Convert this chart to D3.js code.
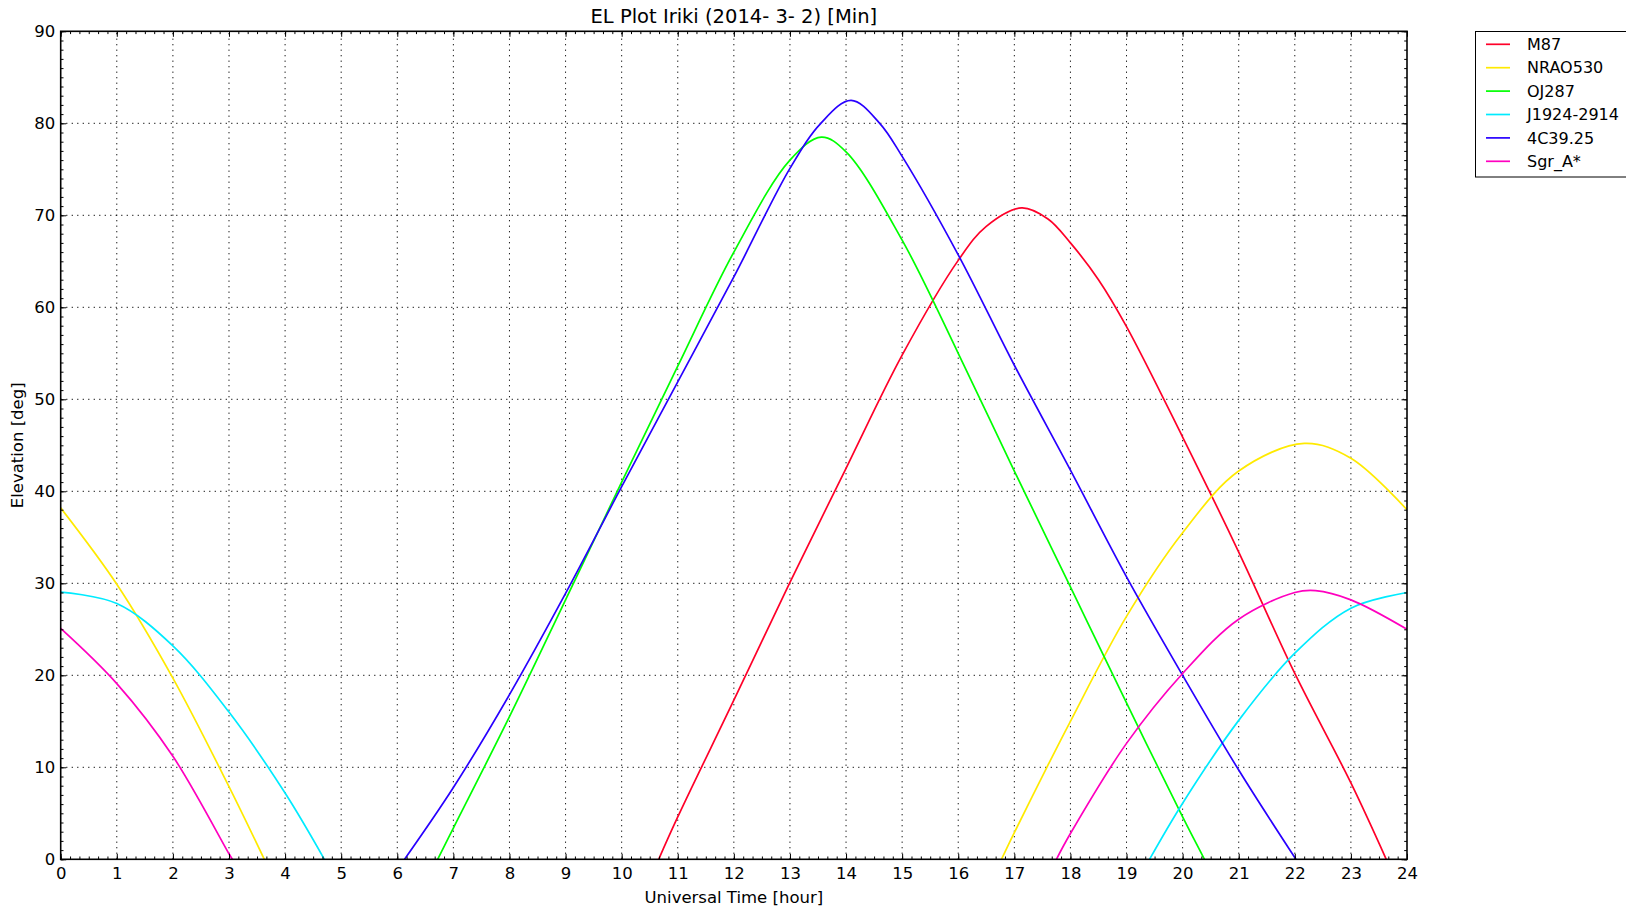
<!DOCTYPE html>
<html><head><meta charset="utf-8">
<script src="https://cdn.jsdelivr.net/npm/d3@7"></script>
<style>body{margin:0;background:#fff} text{font-family:"DejaVu Sans",sans-serif;fill:#000}</style>
</head><body><svg id="c" width="1626" height="908"></svg>
<script>
// ---- data ----
const titleText = "EL Plot Iriki (2014- 3- 2) [Min]";
const xLabel = "Universal Time [hour]";
const yLabel = "Elevation [deg]";
const xTicks = d3.range(0, 25, 1);          // 0..24 hours
const yTicks = d3.range(0, 91, 10);         // 0..90 deg
const seriesNames = ["M87", "NRAO530", "OJ287", "J1924-2914", "4C39.25", "Sgr_A*"];
const seriesColors = ["#ff0029", "#ffea00", "#00ff00", "#00ebff", "#2900ff", "#ff00bf"];

// each series: list of visible segments, points are [hour, elevation]
const m87 = [[[10.66,0],[11,4.6],[12,17.3],[13,30.1],[14,42.5],[15,54.8],[16,65.1],[16.5,68.8],[17.13,70.8],[17.6,69.6],[18,67.0],[18.5,63.0],[19,57.9],[20,45.9],[21,33.4],[22,20.2],[23,8.3],[23.63,0]]];
const nrao530 = [
  [[0,38.2],[1,29.9],[2,19.7],[3,7.9],[3.63,0]],
  [[16.77,0],[17,2.9],[17.58,10.0],[18,15.0],[19,26.4],[20,35.5],[21,42.2],[22.17,45.2],[23,43.6],[24,38.0]]
];
const oj287 = [[[6.72,0],[7,3.4],[8,15.5],[9,28.2],[10,41.0],[11,53.6],[12,66.0],[13,76.0],[13.56,78.5],[14,76.9],[15,67.3],[16,55.0],[17,42.2],[18,29.6],[19,17.0],[20,4.6],[20.39,0]]];
const j1924 = [
  [[0,29.05],[1,27.8],[2,23.2],[3,16.0],[4,7.2],[4.7,0]],
  [[19.41,0],[20,6.1],[21,15.1],[22,22.4],[23,27.3],[24,29.0]]
];
const c4c3925 = [[[6.13,0],[7,7.8],[8,17.9],[9,28.9],[10,40.5],[11,51.9],[12,63.3],[13,75.1],[13.55,80.0],[14.09,82.5],[14.6,80.0],[15,76.4],[16,65.7],[17,53.7],[18,42.3],[19,30.7],[20,20.0],[21,9.7],[22.02,0]]];
const sgrA = [
  [[0,25.1],[1,19.1],[2,11.2],[3,0.6],[3.06,0]],
  [[17.75,0],[18,2.8],[19,12.6],[20,20.2],[21,26.1],[22,29.0],[22.37,29.2],[23,28.2],[24,25.0]]
];
const seriesData = [m87, nrao530, oj287, j1924, c4c3925, sgrA];

// ---- layout ----
const L = 60.7, R = 1407, T = 31.3, B = 859.3;
const svg = d3.select("#c");
const x = d3.scaleLinear().domain([0, 24]).range([L, R]);
const y = d3.scaleLinear().domain([0, 90]).range([B, T]);
const fs = 16.5;

// grid
const grid = svg.append("g").attr("stroke", "#000").attr("stroke-width", 1).attr("stroke-dasharray", "1.2,4.3");
grid.selectAll("line.vx").data(xTicks.slice(1, -1)).join("line")
  .attr("x1", d => x(d)).attr("x2", d => x(d)).attr("y1", B).attr("y2", T);
grid.selectAll("line.hy").data(yTicks.slice(1, -1)).join("line")
  .attr("y1", d => y(d)).attr("y2", d => y(d)).attr("x1", L).attr("x2", R);

// curves
svg.append("clipPath").attr("id", "clip").append("rect")
  .attr("x", L).attr("y", T).attr("width", R - L).attr("height", B - T);
const line = d3.line().x(d => x(d[0])).y(d => y(d[1])).curve(d3.curveCatmullRom.alpha(0.5));
const curves = svg.append("g").attr("clip-path", "url(#clip)");
seriesData.forEach((segs, i) => {
  curves.append("g").selectAll("path").data(segs).join("path")
    .attr("d", line).attr("fill", "none").attr("stroke", seriesColors[i]).attr("stroke-width", 1.7);
});

// axes with inward ticks
const minorX = d3.range(0, 24.001, 1/6);
const minorY = d3.range(0, 90.001, 1);
function styleAxis(g) { g.select(".domain").remove(); g.selectAll("line").attr("stroke", "#000").attr("stroke-width", 1); }

svg.append("g").attr("transform", `translate(0,${B})`)
  .call(d3.axisBottom(x).tickValues(minorX).tickSize(-2.8).tickFormat("")).call(styleAxis);
svg.append("g").attr("transform", `translate(0,${T})`)
  .call(d3.axisTop(x).tickValues(minorX).tickSize(-2.8).tickFormat("")).call(styleAxis);
svg.append("g").attr("transform", `translate(${L},0)`)
  .call(d3.axisLeft(y).tickValues(minorY).tickSize(-2.8).tickFormat("")).call(styleAxis);
svg.append("g").attr("transform", `translate(${R},0)`)
  .call(d3.axisRight(y).tickValues(minorY).tickSize(-2.8).tickFormat("")).call(styleAxis);

svg.append("g").attr("transform", `translate(0,${B})`)
  .call(d3.axisBottom(x).tickValues(xTicks).tickSize(-5.5).tickPadding(7.5).tickFormat(d3.format("d"))).call(styleAxis);
svg.append("g").attr("transform", `translate(0,${T})`)
  .call(d3.axisTop(x).tickValues(xTicks).tickSize(-5.5).tickFormat("")).call(styleAxis);
svg.append("g").attr("transform", `translate(${L},0)`)
  .call(d3.axisLeft(y).tickValues(yTicks).tickSize(-5.5).tickPadding(5.5).tickFormat(d3.format("d"))).call(styleAxis);
svg.append("g").attr("transform", `translate(${R},0)`)
  .call(d3.axisRight(y).tickValues(yTicks).tickSize(-5.5).tickFormat("")).call(styleAxis);
svg.selectAll(".tick text").attr("font-family", "DejaVu Sans").attr("font-size", fs).attr("fill", "#000");

// frame
svg.append("rect").attr("x", L).attr("y", T).attr("width", R - L).attr("height", B - T)
  .attr("fill", "none").attr("stroke", "#000").attr("stroke-width", 1.6);

// labels
svg.append("text").attr("x", (L + R) / 2).attr("y", 23).attr("text-anchor", "middle")
  .attr("font-size", 19.5).text(titleText);
svg.append("text").attr("x", (L + R) / 2).attr("y", 903).attr("text-anchor", "middle")
  .attr("font-size", fs).text(xLabel);
svg.append("text").attr("transform", `translate(23,${(T + B) / 2}) rotate(-90)`).attr("text-anchor", "middle")
  .attr("font-size", fs).text(yLabel);

// legend
const lg = svg.append("g");
lg.append("rect").attr("x", 1475.5).attr("y", 31.5).attr("width", 152).attr("height", 145.5)
  .attr("fill", "#fff").attr("stroke", "#000").attr("stroke-width", 1);
const rows = lg.selectAll("g.row").data(seriesNames).join("g")
  .attr("transform", (d, i) => `translate(0,${44.3 + i * 23.4})`);
rows.append("line").attr("x1", 1486).attr("x2", 1510).attr("y1", 0).attr("y2", 0)
  .attr("stroke", (d, i) => seriesColors[i]).attr("stroke-width", 1.7);
rows.append("text").attr("x", 1527).attr("y", 0).attr("dy", "0.36em").attr("font-size", 16).text(d => d);
</script></body></html>
